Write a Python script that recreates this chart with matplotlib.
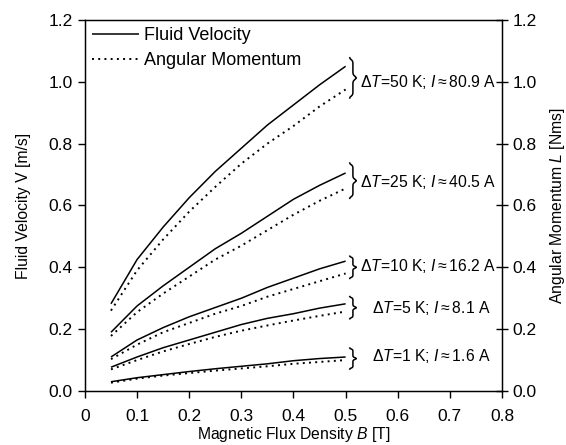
import numpy as np
import matplotlib
matplotlib.use("Agg")
import matplotlib.pyplot as plt

plt.rcParams['font.family'] = ['Liberation Sans', 'DejaVu Sans']
plt.rcParams['mathtext.fontset'] = 'custom'
plt.rcParams['mathtext.it'] = 'Liberation Sans:italic'
plt.rcParams['mathtext.rm'] = 'Liberation Sans'

# ---- data ----
B = [0.05, 0.10, 0.15, 0.20, 0.25, 0.30, 0.35, 0.40, 0.45, 0.50]

v_50 = [0.282, 0.425, 0.530, 0.625, 0.710, 0.785, 0.860, 0.925, 0.990, 1.050]
l_50 = [0.260, 0.390, 0.490, 0.580, 0.660, 0.735, 0.800, 0.857, 0.920, 0.975]
v_25 = [0.190, 0.275, 0.340, 0.400, 0.460, 0.510, 0.565, 0.620, 0.665, 0.705]
l_25 = [0.178, 0.255, 0.315, 0.370, 0.425, 0.470, 0.520, 0.570, 0.615, 0.655]
v_10 = [0.110, 0.165, 0.205, 0.240, 0.270, 0.300, 0.335, 0.365, 0.395, 0.420]
l_10 = [0.103, 0.150, 0.190, 0.220, 0.250, 0.275, 0.305, 0.330, 0.355, 0.380]
v_5 = [0.077, 0.110, 0.140, 0.165, 0.190, 0.215, 0.235, 0.250, 0.268, 0.282]
l_5 = [0.070, 0.100, 0.128, 0.152, 0.175, 0.195, 0.212, 0.228, 0.243, 0.257]
v_1 = [0.030, 0.043, 0.053, 0.063, 0.072, 0.080, 0.088, 0.098, 0.105, 0.110]
l_1 = [0.027, 0.040, 0.050, 0.058, 0.066, 0.073, 0.080, 0.088, 0.094, 0.100]

velocity = [v_50, v_25, v_10, v_5, v_1]
momentum = [l_50, l_25, l_10, l_5, l_1]
labels = [r"$\mathit{\Delta T}$=50 K; $\mathit{I}$$\approx$80.9 A",
          r"$\mathit{\Delta T}$=25 K; $\mathit{I}$$\approx$40.5 A",
          r"$\mathit{\Delta T}$=10 K; $\mathit{I}$$\approx$16.2 A",
          r"$\mathit{\Delta T}$=5 K; $\mathit{I}$$\approx$8.1 A",
          r"$\mathit{\Delta T}$=1 K; $\mathit{I}$$\approx$1.6 A"]
label_y = [1.0, 0.675, 0.405, 0.27, 0.113]
label_x = [0.527, 0.527, 0.527, 0.551, 0.551]
brace_half = [0.065, 0.057, 0.036, 0.036, 0.034]

xticks = [0, 0.1, 0.2, 0.3, 0.4, 0.5, 0.6, 0.7, 0.8]
xticklabels = ["0", "0.1", "0.2", "0.3", "0.4", "0.5", "0.6", "0.7", "0.8"]
yticks = [0.0, 0.2, 0.4, 0.6, 0.8, 1.0, 1.2]

fig = plt.figure(figsize=(5.66, 4.45), dpi=100)
ax = fig.add_axes([0.150, 0.1213, 0.737, 0.834])

for i, (v, l) in enumerate(zip(velocity, momentum)):
    ax.plot(B, v, color='black', lw=1.1, solid_capstyle='butt',
            label='Fluid Velocity' if i == 0 else None)
    ax.plot(B, l, color='black', lw=1.4, linestyle=(0, (1, 2.2)),
            label='Angular Momentum' if i == 0 else None)


def brace(ax, x, yc, h, w=0.012):
    # curly brace opening to the left, drawn in data coords
    top = np.linspace(0, 1, 50)
    y_up = yc + h * top
    x_up = (x + w * 0.5 + 0.5 * w * np.exp(-(top / 0.12) ** 2)
            - 0.5 * w * np.exp(-((1 - top) / 0.12) ** 2))
    y_dn = yc - h * top
    ax.plot(x_up, y_up, color='black', lw=1.1, clip_on=False)
    ax.plot(x_up, y_dn, color='black', lw=1.1, clip_on=False)


for i in range(5):
    yc = 0.5 * (velocity[i][-1] + momentum[i][-1])
    brace(ax, 0.508, yc, brace_half[i])
    ax.text(label_x[i], label_y[i], labels[i], fontsize=11.3, va='center', ha='left')

ax.set_xlim(0, 0.8)
ax.set_ylim(0, 1.2)
ax.set_xticks(xticks)
ax.set_xticklabels(xticklabels)
ax.set_yticks(yticks)
ax.set_yticklabels([f"{y:.1f}" for y in yticks])
ax.tick_params(axis='both', direction='out', length=5, width=1, labelsize=12.5, pad=8)
ax.tick_params(axis='y', pad=4)
for s in ax.spines.values():
    s.set_linewidth(1.0)

ax.set_xlabel(r"Magnetic Flux Density $\mathit{B}$ [T]", fontsize=11.3, labelpad=1)
ax.set_ylabel(r"Fluid Velocity V [m/s]", fontsize=11.3, labelpad=12)

ax2 = ax.twinx()
ax2.set_ylim(0, 1.2)
ax2.set_yticks(yticks)
ax2.set_yticklabels([f"{y:.1f}" for y in yticks])
ax2.tick_params(axis='y', direction='inout', length=9, width=1, labelsize=12.5, pad=3)
ax2.set_ylabel(r"Angular Momentum $\mathit{L}$ [Nms]", fontsize=11.3, labelpad=8)

leg = ax.legend(loc='upper left', frameon=False, fontsize=13, handlelength=2.6,
                handletextpad=0.3, borderaxespad=0.15, labelspacing=0.45,
                borderpad=0.25)

fig.savefig("out.png", dpi=100)
